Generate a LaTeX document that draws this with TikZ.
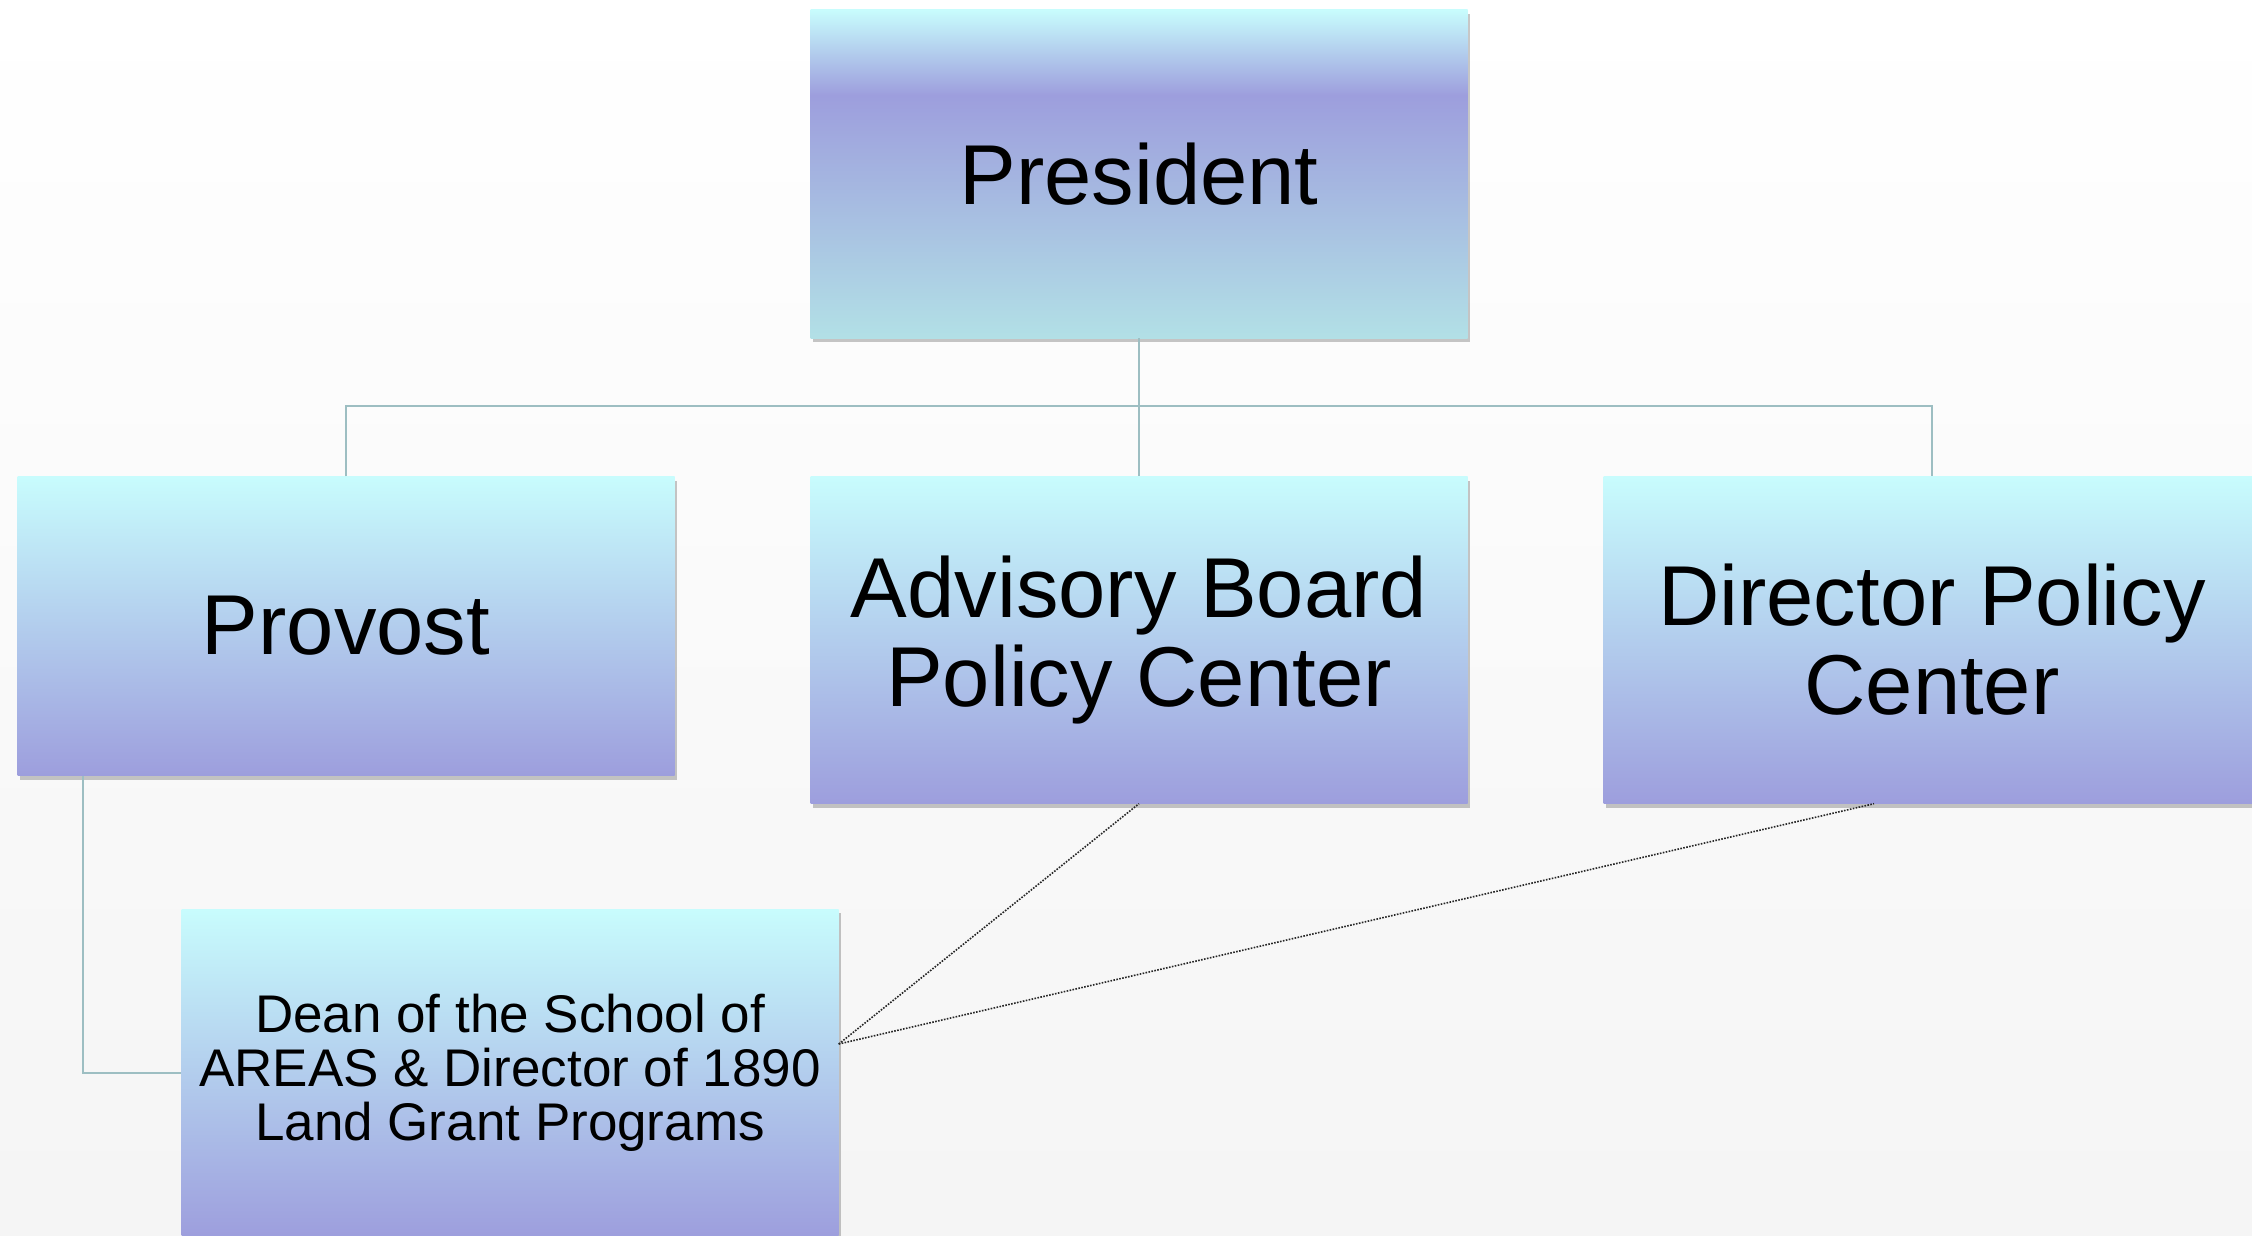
\documentclass[tikz,border=0pt]{standalone}
\usepackage{fontspec}
\setmainfont{Liberation Sans}
\usetikzlibrary{shadows}
\definecolor{boxtop}{HTML}{C8FCFD}
\definecolor{boxbot}{HTML}{9D9EDD}
\definecolor{presbot}{HTML}{B2E0E6}
\definecolor{conncol}{HTML}{9DBEC2}
\pgfdeclareverticalshading{presshade}{100bp}{color(0bp)=(presbot); color(25bp)=(presbot); color(62bp)=(boxbot); color(75bp)=(boxtop); color(100bp)=(boxtop)}
\tikzset{
  orgbox/.style={rectangle, minimum width=657pt, inner sep=0pt, align=center,
    top color=boxtop, bottom color=boxbot, draw=none,
    drop shadow={shadow xshift=2pt, shadow yshift=-4pt, fill=black, opacity=0.22}},
  bigtext/.style={font=\fontsize{85}{89}\selectfont},
  smalltext/.style={font=\fontsize{53}{54}\selectfont},
  conn/.style={draw=conncol, line width=2pt},
  dotconn/.style={draw=black!85, line width=1.6pt, dash pattern=on 1.6pt off 1.4pt}
}
\begin{document}
\begin{tikzpicture}[x=1pt, y=-1pt]
\useasboundingbox (0,0) rectangle (2252,1236);
\clip (0,0) rectangle (2252,1236);
\shade[top color=white, bottom color=black!4] (0,0) rectangle (2252,1236);

\node[orgbox, bigtext, minimum height=328pt, shading=presshade] (pres) at (1139,174) {President};
\node[orgbox, bigtext, minimum height=299pt] (prov) at (346,626) {Provost};
\node[orgbox, bigtext, minimum height=327pt] (adv) at (1139,640) {Advisory Board\\Policy Center};
\node[orgbox, bigtext, minimum height=327pt] (dir) at (1932,640) {Director Policy\\Center};
\node[orgbox, smalltext, minimum height=328pt] (dean) at (510,1073) {Dean of the School of\\AREAS \& Director of 1890\\Land Grant Programs};

\coordinate (bus) at (1139,406);
\draw[conn] (prov.north) |- (bus) -| (dir.north);
\draw[conn] (pres.south) -- (adv.north);
\draw[conn] ([xshift=66pt]prov.south west) |- (dean.west);

\draw[dotconn] ([yshift=29pt]dean.east) -- (adv.south);
\draw[dotconn] ([yshift=29pt]dean.east) -- ([xshift=-58pt]dir.south);
\end{tikzpicture}
\end{document}
